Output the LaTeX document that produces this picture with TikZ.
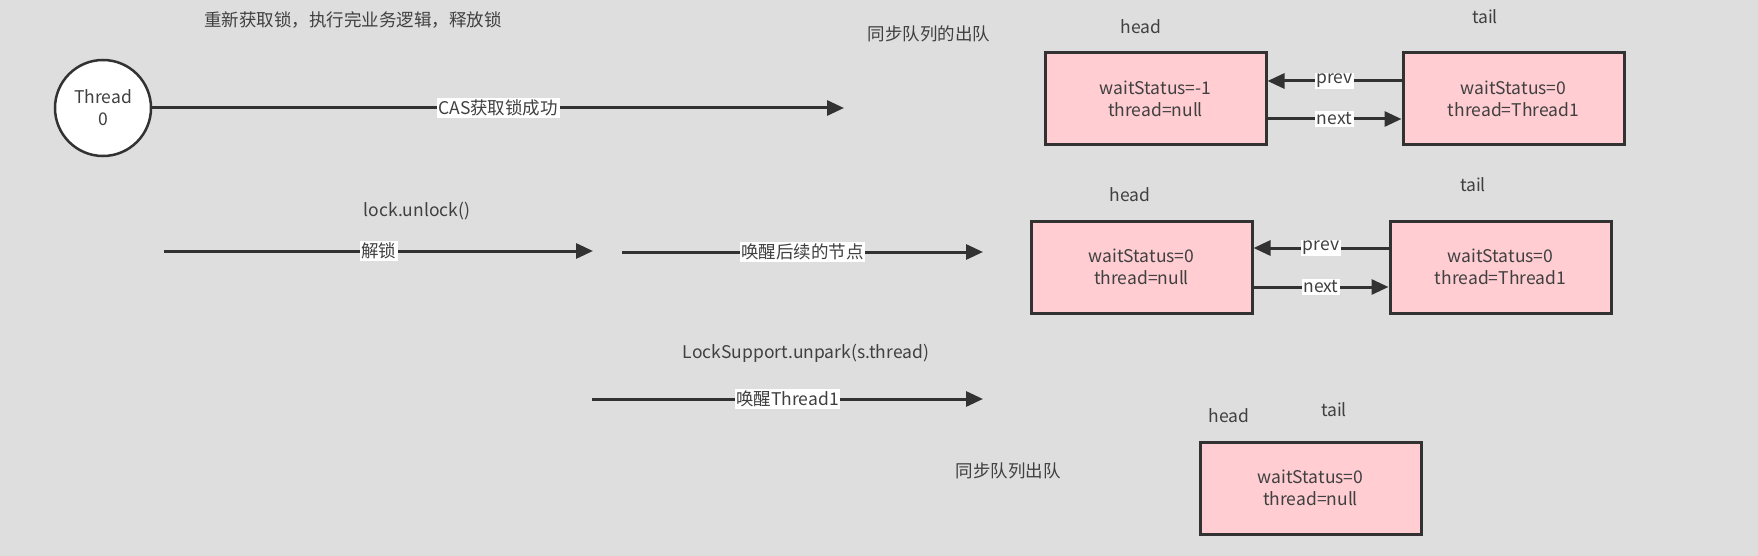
\documentclass[tikz,border=0pt]{standalone}
\usepackage{fontspec}
\setmainfont{Noto Sans CJK SC}
\usepackage{tikz}
\usetikzlibrary{arrows.meta}
\definecolor{bggray}{RGB}{222,222,222}
\definecolor{nodepink}{RGB}{255,205,210}
\definecolor{ink}{RGB}{50,50,50}
\definecolor{txtgray}{RGB}{64,64,64}

\begin{document}
\begin{tikzpicture}[x=1pt,y=-1pt,
	every node/.style={font=\fontsize{17.5}{22}\selectfont, text=txtgray},
	qnode/.style={draw=ink, line width=3pt, fill=nodepink, minimum width=221pt, minimum height=92pt, align=center, inner sep=0pt},
	flow/.style={draw=ink, line width=3pt, -{Triangle[length=17pt,width=15pt]}},
	tag/.style={fill=white, inner sep=1.5pt}]
	%\draw[help lines] (0,0) grid[step=100] (1758,556);
	\fill[bggray] (0,0) rectangle (1758,556);
	% row 1
	\node (title) at (353,20) {重新获取锁，执行完业务逻辑，释放锁};
	\node[circle, draw=ink, line width=2.5pt, fill=white, minimum size=96pt, inner sep=0pt, align=center] (t0) at (103,108) {Thread\\0};
	\coordinate (casend) at (844,108);
	\draw[flow] (t0) -- (casend) node[tag, midway] (cas) {CAS获取锁成功};
	\node (deq1) at (929,34) {同步队列的出队};
	\node (hlab1) at (1141,27) {head};
	\node (tlab1) at (1485,17) {tail};
	\node[qnode] (head1) at (1155.5,99) {waitStatus=-1\\thread=null};
	\node[qnode] (tail1) at (1513.5,99) {waitStatus=0\\thread=Thread1};
	\draw[flow] ([yshift=18pt]tail1.west) -- ([yshift=18pt]head1.east) node[tag, midway] (prev1) {prev};
	\draw[flow] ([yshift=-20pt]head1.east) -- ([yshift=-20pt]tail1.west) node[tag, midway] (next1) {next};
	% row 2
	\node (unlock) at (417,211) {lock.unlock()};
	\coordinate (ulstart) at (164,251);
	\coordinate (ulend) at (593,251);
	\draw[flow] (ulstart) -- (ulend) node[tag, midway] (ul) {解锁};
	\coordinate (wkstart) at (622,252);
	\coordinate (wkend) at (983,252);
	\draw[flow] (wkstart) -- (wkend) node[tag, midway] (wk) {唤醒后续的节点};
	\node (hlab2) at (1130,195) {head};
	\node (tlab2) at (1473,185) {tail};
	\node[qnode] (head2) at (1141.5,267) {waitStatus=0\\thread=null};
	\node[qnode] (tail2) at (1500.5,267) {waitStatus=0\\thread=Thread1};
	\draw[flow] ([yshift=19pt]tail2.west) -- ([yshift=19pt]head2.east) node[tag, midway] (prev2) {prev};
	\draw[flow] ([yshift=-20pt]head2.east) -- ([yshift=-20pt]tail2.west) node[tag, midway] (next2) {next};
	% row 3
	\node (unpark) at (806,353) {LockSupport.unpark(s.thread)};
	\coordinate (upstart) at (592,399);
	\coordinate (upend) at (983,399);
	\draw[flow] (upstart) -- (upend) node[tag, midway] (up) {唤醒Thread1};
	\node (deq2) at (1008,471) {同步队列出队};
	\node (hlab3) at (1229,416) {head};
	\node (tlab3) at (1334,410) {tail};
	\node[qnode] (head3) at (1310.5,488) {waitStatus=0\\thread=null};
\end{tikzpicture}
\end{document}
